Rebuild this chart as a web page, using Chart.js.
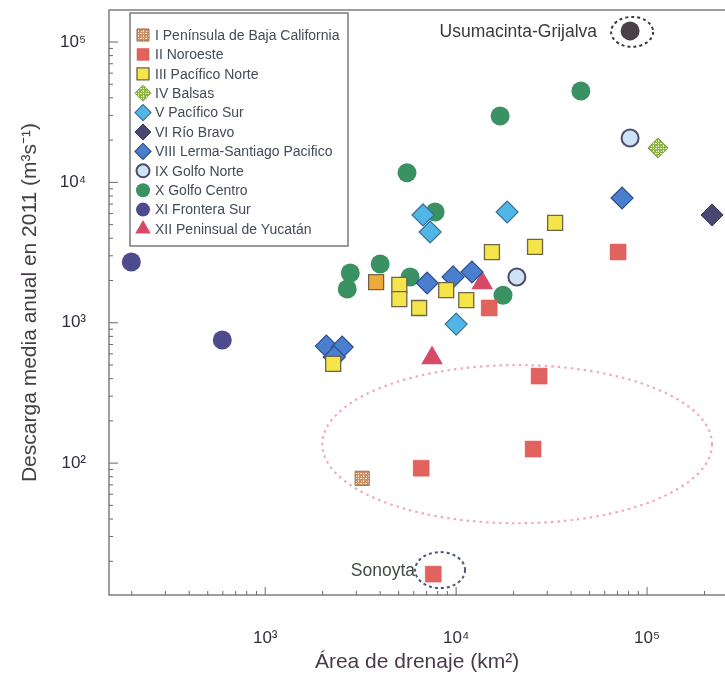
<!DOCTYPE html>
<html>
<head>
<meta charset="utf-8">
<script src="https://cdn.jsdelivr.net/npm/chart.js@4.4.1/dist/chart.umd.min.js"></script>
<style>
  html, body { margin: 0; padding: 0; background: #fff; }
  #wrap { width: 725px; height: 680px; }
</style>
</head>
<body>
<div id="wrap"><canvas id="chart" width="725" height="680"></canvas></div>
<script>
// values: drainage area (km2) vs mean discharge 2011 (m3/s)
const bajaArea = [3220];
const bajaFlow = [78];
const noroesteArea = [14900, 27200, 6560, 25300, 70500, 7590];
const noroesteFlow = [1274, 417, 92, 126, 3190, 16.2];
const pacNorteArea = [3810, 5040, 5040, 6400, 8870, 11300, 15400, 25900, 33000, 2270];
const pacNorteFlow = [1950, 1860, 1475, 1274, 1710, 1450, 3190, 3470, 5140, 510];
const balsasArea = [114000];
const balsasFlow = [17600];
const pacSurArea = [6710, 7310, 18500, 10000];
const pacSurFlow = [5860, 4430, 6150, 979];
const rioBravoArea = [219000];
const rioBravoFlow = [5860];
const lermaArea = [7050, 9640, 12100, 74000, 2090, 2530, 2300];
const lermaFlow = [1920, 2120, 2300, 7740, 682, 671, 570];
const golfoNorteArea = [81500, 20800];
const golfoNorteFlow = [20700, 2120];
const golfoCentroArea = [45000, 17000, 5530, 7760, 4000, 2790, 2690, 5740, 17600];
const golfoCentroFlow = [44800, 29700, 11700, 6150, 2620, 2260, 1740, 2120, 1570];
const fronteraArea = [199, 596, 81500];
const fronteraFlow = [2710, 753, 120000];
const yucatanArea = [13700, 7480];
const yucatanFlow = [1920, 560];

const xTickValues = [1e3, 1e4, 1e5];
const xTickLabels = ['10³', '10⁴', '10⁵'];
const yTickValues = [1e2, 1e3, 1e4, 1e5];
const yTickLabels = ['10²', '10³', '10⁴', '10⁵'];

// highlighted rivers (data coords)
const usumacinta = { x: 81500, y: 120000, label: 'Usumacinta-Grijalva' };
const sonoyta = { x: 8240, y: 17.3, label: 'Sonoyta' };
// low-discharge group outline (data bounds)
const lowGroup = { xMin: 1990, xMax: 219000, yMin: 37.3, yMax: 499 };

const FONT = "'Liberation Sans', Arial, sans-serif";

function toPoints(xs, ys) {
  return xs.map((x, i) => ({ x: x, y: ys[i] }));
}

// little speckled fill used by the Baja and Balsas markers
function speckle(bg, fg) {
  const c = document.createElement('canvas');
  c.width = 5; c.height = 5;
  const g = c.getContext('2d');
  g.fillStyle = bg; g.fillRect(0, 0, 5, 5);
  g.fillStyle = fg;
  g.fillRect(1, 1, 1, 1); g.fillRect(3, 0, 1, 2); g.fillRect(0, 3, 2, 1); g.fillRect(3, 3, 1, 1);
  return g.createPattern(c, 'repeat');
}
const bajaFill = speckle('#c98f62', '#f4e2d0');
const balsasFill = speckle('#8db445', '#e8f2d0');

const datasets = [
  { label: 'I Península de Baja California', data: toPoints(bajaArea, bajaFlow),
    pointStyle: 'rect', radius: 10, backgroundColor: bajaFill, borderColor: '#9a6a48', borderWidth: 1, lg: 8.5 },
  { label: 'II Noroeste', data: toPoints(noroesteArea, noroesteFlow),
    pointStyle: 'rect', radius: 11.3, backgroundColor: '#e2625e', borderColor: '#d85a56', borderWidth: 0.5, lg: 8.5 },
  { label: 'III Pacífico Norte', data: toPoints(pacNorteArea, pacNorteFlow),
    pointStyle: 'rect', radius: 10.6, backgroundColor: ctx => ctx.dataIndex === 0 ? '#eeaa3c' : '#f5e44a',
    borderColor: '#6e6446', borderWidth: 1.3, lg: 8.5, legendFill: '#f5e44a' },
  { label: 'IV Balsas', data: toPoints(balsasArea, balsasFlow),
    pointStyle: 'rectRot', radius: 10, backgroundColor: balsasFill, borderColor: '#7ea03c', borderWidth: 1, lg: 8 },
  { label: 'V Pacífico Sur', data: toPoints(pacSurArea, pacSurFlow),
    pointStyle: 'rectRot', radius: 11, backgroundColor: '#4fb6e6', borderColor: '#3c6f96', borderWidth: 1.2, lg: 8 },
  { label: 'VI Río Bravo', data: toPoints(rioBravoArea, rioBravoFlow),
    pointStyle: 'rectRot', radius: 11, backgroundColor: '#4a4673', borderColor: '#3a3660', borderWidth: 1, lg: 8 },
  { label: 'VIII Lerma-Santiago Pacifico', data: toPoints(lermaArea, lermaFlow),
    pointStyle: 'rectRot', radius: 11, backgroundColor: '#4a7ecf', borderColor: '#2e4f88', borderWidth: 1.2, lg: 8 },
  { label: 'IX Golfo Norte', data: toPoints(golfoNorteArea, golfoNorteFlow),
    pointStyle: 'circle', radius: 8.5, backgroundColor: '#cde3f5', borderColor: '#4c4c6c', borderWidth: 2, lg: 6.5 },
  { label: 'X Golfo Centro', data: toPoints(golfoCentroArea, golfoCentroFlow),
    pointStyle: 'circle', radius: 9.5, backgroundColor: '#3a9262', borderColor: '#3a9262', borderWidth: 0, lg: 7 },
  { label: 'XI Frontera Sur', data: toPoints(fronteraArea, fronteraFlow),
    pointStyle: 'circle', radius: 9.5, backgroundColor: ctx => ctx.dataIndex === 2 ? '#4b3f48' : '#4d4b8e',
    borderColor: '#4d4b8e', borderWidth: 0, lg: 7, legendFill: '#4d4b8e' },
  { label: 'XII Peninsual de Yucatán', data: toPoints(yucatanArea, yucatanFlow),
    pointStyle: 'triangle', radius: 12.5, backgroundColor: '#d64a68', borderColor: '#d64a68', borderWidth: 0, lg: 9 }
];
datasets.forEach(d => { d.pointRadius = d.radius; d.pointHoverRadius = d.radius; d.clip = false; });

function labelFor(values, labels) {
  return v => {
    const i = values.findIndex(t => Math.abs(v / t - 1) < 1e-6);
    return i >= 0 ? labels[i] : '';
  };
}

function isNiceLogTick(v) {
  const e = Math.floor(Math.log10(v) + 1e-9);
  const m = v / Math.pow(10, e);
  return Math.abs(m - Math.round(m)) < 1e-6;
}

function ellipse(ctx, cx, cy, rx, ry) {
  ctx.beginPath();
  ctx.ellipse(cx, cy, rx, ry, 0, 0, Math.PI * 2);
  ctx.stroke();
}

const decorPlugin = {
  id: 'decor',
  beforeDatasetsDraw(chart) {
    const { ctx, scales: { x, y } } = chart;
    const l = x.getPixelForValue(lowGroup.xMin), r = x.getPixelForValue(lowGroup.xMax);
    const t = y.getPixelForValue(lowGroup.yMax), b = y.getPixelForValue(lowGroup.yMin);
    ctx.save();
    ctx.strokeStyle = '#f2a9ba';
    ctx.lineWidth = 2.2;
    ctx.setLineDash([2.5, 4]);
    ellipse(ctx, (l + r) / 2, (t + b) / 2, (r - l) / 2, (b - t) / 2);
    ctx.restore();
  },
  afterDatasetsDraw(chart) {
    const { ctx, chartArea: a, scales: { x, y } } = chart;
    ctx.save();

    // frame
    ctx.strokeStyle = '#7d7d7d';
    ctx.lineWidth = 1.5;
    ctx.beginPath();
    ctx.moveTo(a.right + 2, a.top);
    ctx.lineTo(a.left, a.top);
    ctx.lineTo(a.left, a.bottom);
    ctx.lineTo(a.right + 2, a.bottom);
    ctx.stroke();

    // inward tick marks, long at decades
    ctx.lineWidth = 1;
    ctx.strokeStyle = '#6a6a6a';
    x.ticks.forEach(tk => {
      if (!isNiceLogTick(tk.value)) return;
      const px = x.getPixelForValue(tk.value);
      const len = xTickValues.some(v => Math.abs(tk.value / v - 1) < 1e-6) ? 8 : 4;
      ctx.beginPath(); ctx.moveTo(px, a.bottom); ctx.lineTo(px, a.bottom - len); ctx.stroke();
    });
    y.ticks.forEach(tk => {
      if (!isNiceLogTick(tk.value)) return;
      const py = y.getPixelForValue(tk.value);
      const len = yTickValues.some(v => Math.abs(tk.value / v - 1) < 1e-6) ? 9 : 4;
      ctx.beginPath(); ctx.moveTo(a.left, py); ctx.lineTo(a.left + len, py); ctx.stroke();
    });

    // highlighted rivers
    ctx.lineWidth = 2;
    ctx.setLineDash([3, 3]);
    const ux = x.getPixelForValue(usumacinta.x), uy = y.getPixelForValue(usumacinta.y);
    ctx.strokeStyle = '#3c3c3c';
    ellipse(ctx, ux + 2, uy + 1, 21, 15);
    const sx = x.getPixelForValue(sonoyta.x), sy = y.getPixelForValue(sonoyta.y);
    ctx.strokeStyle = '#4d5878';
    ellipse(ctx, sx, sy, 25, 18);
    ctx.setLineDash([]);

    ctx.font = '17.5px ' + FONT;
    ctx.textAlign = 'right';
    ctx.textBaseline = 'middle';
    ctx.fillStyle = '#3a3a3a';
    ctx.fillText(usumacinta.label, ux - 33, uy + 1);
    ctx.fillStyle = '#3e4c42';
    ctx.fillText(sonoyta.label, sx - 25, sy + 1);

    // legend box inside the plot
    const lx = a.left + 21, ly = a.top + 3, lw = 218, lh = 233;
    ctx.fillStyle = '#ffffff';
    ctx.fillRect(lx, ly, lw, lh);
    ctx.strokeStyle = '#7a7a7a';
    ctx.lineWidth = 1.5;
    ctx.strokeRect(lx, ly, lw, lh);
    ctx.font = '14px ' + FONT;
    ctx.textAlign = 'left';
    chart.data.datasets.forEach((d, i) => {
      const cy = ly + 22 + i * 19.4;
      const cx = lx + 13;
      ctx.fillStyle = d.legendFill || d.backgroundColor;
      ctx.strokeStyle = d.borderColor;
      ctx.lineWidth = d.borderWidth;
      Chart.helpers.drawPoint(ctx, { pointStyle: d.pointStyle, radius: d.lg, rotation: 0, borderWidth: d.borderWidth }, cx, cy);
      ctx.fillStyle = '#434b58';
      ctx.fillText(d.label, lx + 25, cy + 1);
    });
    ctx.restore();
  }
};

new Chart(document.getElementById('chart'), {
  type: 'scatter',
  data: { datasets: datasets },
  options: {
    responsive: false,
    animation: false,
    layout: { autoPadding: false, padding: { top: 10, right: 0, left: 0, bottom: 0 } },
    plugins: { legend: { display: false }, tooltip: { enabled: false } },
    scales: {
      x: {
        type: 'logarithmic',
        min: 152, max: 256000,
        grid: { display: false, drawTicks: false },
        border: { display: false },
        ticks: { autoSkip: false, maxRotation: 0, padding: 33, color: '#2e2e36',
                 font: { family: FONT, size: 17 }, callback: labelFor(xTickValues, xTickLabels) },
        title: { display: true, text: 'Área de drenaje (km²)', color: '#4a3b4a',
                 font: { family: FONT, size: 21 }, padding: { top: 0, bottom: 5 } },
        afterFit: s => { s.height = 85; s.paddingLeft = 0; s.paddingRight = 0; }
      },
      y: {
        type: 'logarithmic',
        min: 11.5, max: 169000,
        grid: { display: false, drawTicks: false },
        border: { display: false },
        ticks: { autoSkip: false, padding: 23, color: '#2e2e3c',
                 font: { family: FONT, size: 17 }, callback: labelFor(yTickValues, yTickLabels) },
        title: { display: true, text: 'Descarga media anual en 2011 (m³s⁻¹)', color: '#4a3b4a',
                 font: { family: FONT, size: 21 }, padding: { top: 18, bottom: 0 } },
        afterFit: s => { s.width = 109; s.paddingTop = 0; s.paddingBottom = 0; }
      }
    }
  },
  plugins: [decorPlugin]
});
</script>
</body>
</html>
